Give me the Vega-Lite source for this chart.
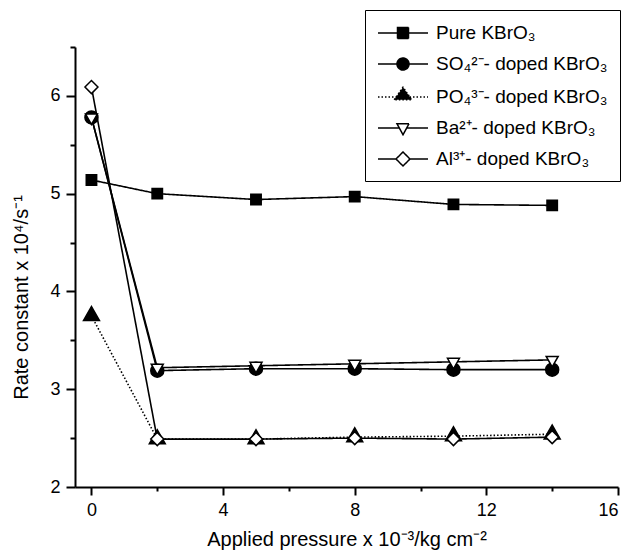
{
  "$schema": "https://vega.github.io/schema/vega-lite/v6.json",
  "autosize": {"type": "none"},
  "width": 543,
  "height": 440,
  "padding": {"left": 75, "top": 47, "right": 11, "bottom": 69},
  "background": "white",
  "config": {
    "view": {"stroke": null},
    "font": "Liberation Sans",
    "axis": {
      "labelFont": "Liberation Sans",
      "titleFont": "Liberation Sans",
      "labelColor": "black",
      "titleColor": "black",
      "domainColor": "black",
      "tickColor": "black",
      "domainWidth": 2,
      "tickWidth": 2,
      "labelFontSize": 18,
      "titleFontSize": 20,
      "titleFontWeight": "normal",
      "grid": false
    },
    "legend": {
      "orient": "none",
      "legendX": 290,
      "legendY": -37,
      "padding": 12,
      "strokeColor": "black",
      "fillColor": "white",
      "symbolSize": 400,
      "symbolOpacity": 1,
      "rowPadding": 10,
      "labelOffset": 37,
      "labelFont": "Liberation Sans",
      "labelFontSize": 19,
      "labelColor": "black",
      "labelLimit": 400
    }
  },
  "data": {
    "values": [
      {"series": "Pure", "x": 0, "y": 5.14},
      {"series": "Pure", "x": 2, "y": 5.0},
      {"series": "Pure", "x": 5, "y": 4.94},
      {"series": "Pure", "x": 8, "y": 4.97},
      {"series": "Pure", "x": 11, "y": 4.89},
      {"series": "Pure", "x": 14, "y": 4.88},
      {"series": "SO4", "x": 0, "y": 5.78},
      {"series": "SO4", "x": 2, "y": 3.19},
      {"series": "SO4", "x": 5, "y": 3.21},
      {"series": "SO4", "x": 8, "y": 3.21},
      {"series": "SO4", "x": 11, "y": 3.2},
      {"series": "SO4", "x": 14, "y": 3.2},
      {"series": "PO4", "x": 0, "y": 3.75},
      {"series": "PO4", "x": 2, "y": 2.49},
      {"series": "PO4", "x": 5, "y": 2.49},
      {"series": "PO4", "x": 8, "y": 2.51},
      {"series": "PO4", "x": 11, "y": 2.52},
      {"series": "PO4", "x": 14, "y": 2.54},
      {"series": "Ba", "x": 0, "y": 5.78},
      {"series": "Ba", "x": 2, "y": 3.22},
      {"series": "Ba", "x": 5, "y": 3.24},
      {"series": "Ba", "x": 8, "y": 3.26},
      {"series": "Ba", "x": 11, "y": 3.28},
      {"series": "Ba", "x": 14, "y": 3.3},
      {"series": "Al", "x": 0, "y": 6.09},
      {"series": "Al", "x": 2, "y": 2.49},
      {"series": "Al", "x": 5, "y": 2.49},
      {"series": "Al", "x": 8, "y": 2.5},
      {"series": "Al", "x": 11, "y": 2.49},
      {"series": "Al", "x": 14, "y": 2.51}
    ]
  },
  "encoding": {
    "x": {
      "field": "x", "type": "quantitative",
      "scale": {"domain": [-0.5, 16], "nice": false, "zero": false},
      "axis": {
        "values": [0, 2, 4, 6, 8, 10, 12, 14, 16],
        "labelExpr": "datum.value % 4 === 0 ? '' + datum.value : ''",
        "tickSize": {"condition": {"test": "datum.value % 4 === 0", "value": 8}, "value": 4},
        "labelPadding": 6,
        "title": "Applied pressure x 10⁻³/kg cm⁻²",
        "titlePadding": 10
      }
    },
    "y": {
      "field": "y", "type": "quantitative",
      "scale": {"domain": [2, 6.5], "nice": false, "zero": false},
      "axis": {
        "values": [2, 2.5, 3, 3.5, 4, 4.5, 5, 5.5, 6, 6.5],
        "labelExpr": "datum.value % 1 === 0 ? '' + datum.value : ''",
        "tickSize": {"condition": {"test": "datum.value % 1 === 0", "value": 9}, "value": 5},
        "labelPadding": 6,
        "title": "Rate constant x 10⁴/s⁻¹",
        "titleX": -44,
        "titleY": 250
      }
    }
  },
  "layer": [
    {
      "mark": {"type": "line", "color": "black", "strokeWidth": 1.6},
      "encoding": {
        "detail": {"field": "series", "type": "nominal"},
        "strokeDash": {"condition": {"test": "datum.series === 'PO4'", "value": [1.5, 2]}, "value": [1, 0]}
      }
    },
    {
      "mark": {"type": "point", "filled": true, "stroke": "black", "strokeWidth": 1.5, "opacity": 1, "size": 400},
      "encoding": {
        "shape": {
          "condition": [
            {"test": "datum.series === 'Pure'", "value": "M-0.52,-0.52H0.52V0.52H-0.52Z"},
            {"test": "datum.series === 'SO4'", "value": "M-0.65,0C-0.65,-0.359,-0.359,-0.65,0,-0.65C0.359,-0.65,0.65,-0.359,0.65,0C0.65,0.359,0.359,0.65,0,0.65C-0.359,0.65,-0.65,0.359,-0.65,0Z"},
            {"test": "datum.series === 'PO4'", "value": "M-0.8,0.47L0,-0.93L0.8,0.47Z"},
            {"test": "datum.series === 'Ba'", "value": "M-0.6,-0.35H0.6L0,0.7Z"}
          ],
          "value": "M-0.65,0L0,-0.65L0.65,0L0,0.65Z"
        },
        "fill": {"condition": {"test": "datum.series === 'Ba' || datum.series === 'Al'", "value": "white"}, "value": "black"}
      }
    },
    {
      "transform": [{"filter": "false"}],
      "mark": {"type": "point", "filled": true, "stroke": "black", "strokeWidth": 1.5, "opacity": 1},
      "encoding": {
        "shape": {
          "field": "series", "type": "nominal",
          "scale": {
            "domain": ["Pure", "SO4", "PO4", "Ba", "Al"],
            "range": [
              "M-1,0H4M0.95,-0.55H2.05V0.55H0.95Z",
              "M-1,0H4M0.9,0C0.9,-0.331,1.169,-0.6,1.5,-0.6C1.831,-0.6,2.1,-0.331,2.1,0C2.1,0.331,1.831,0.6,1.5,0.6C1.169,0.6,0.9,0.331,0.9,0Z",
              "M-1,0H4M0.62,0.27L1.5,-0.98L2.38,0.27Z",
              "M-1,0H1.132M1.868,0H4M0.9,-0.425H2.1L1.5,0.675Z",
              "M-1,0H0.8M2.2,0H4M0.8,0L1.5,-0.7L2.2,0L1.5,0.7Z"
            ]
          },
          "legend": {
            "title": null,
            "labelExpr": "datum.value === 'Pure' ? 'Pure KBrO₃' : datum.value === 'SO4' ? 'SO₄²⁻- doped KBrO₃' : datum.value === 'PO4' ? 'PO₄³⁻- doped KBrO₃' : datum.value === 'Ba' ? 'Ba²⁺- doped KBrO₃' : 'Al³⁺- doped KBrO₃'",
            "encode": {"symbols": {"stroke": {"value": "black"}, "strokeWidth": {"value": 1.5}}}
          }
        },
        "fill": {
          "field": "series", "type": "nominal",
          "scale": {"domain": ["Pure", "SO4", "PO4", "Ba", "Al"], "range": ["black", "black", "black", "white", "white"]},
          "legend": {
            "title": null,
            "labelExpr": "datum.value === 'Pure' ? 'Pure KBrO₃' : datum.value === 'SO4' ? 'SO₄²⁻- doped KBrO₃' : datum.value === 'PO4' ? 'PO₄³⁻- doped KBrO₃' : datum.value === 'Ba' ? 'Ba²⁺- doped KBrO₃' : 'Al³⁺- doped KBrO₃'",
            "encode": {"symbols": {"stroke": {"value": "black"}, "strokeWidth": {"value": 1.5}}}
          }
        },
        "strokeDash": {
          "field": "series", "type": "nominal",
          "scale": {"domain": ["Pure", "SO4", "PO4", "Ba", "Al"], "range": [[1, 0], [1, 0], [1.5, 2], [1, 0], [1, 0]]},
          "legend": {
            "title": null,
            "labelExpr": "datum.value === 'Pure' ? 'Pure KBrO₃' : datum.value === 'SO4' ? 'SO₄²⁻- doped KBrO₃' : datum.value === 'PO4' ? 'PO₄³⁻- doped KBrO₃' : datum.value === 'Ba' ? 'Ba²⁺- doped KBrO₃' : 'Al³⁺- doped KBrO₃'",
            "encode": {"symbols": {"stroke": {"value": "black"}, "strokeWidth": {"value": 1.5}}}
          }
        }
      }
    }
  ]
}
